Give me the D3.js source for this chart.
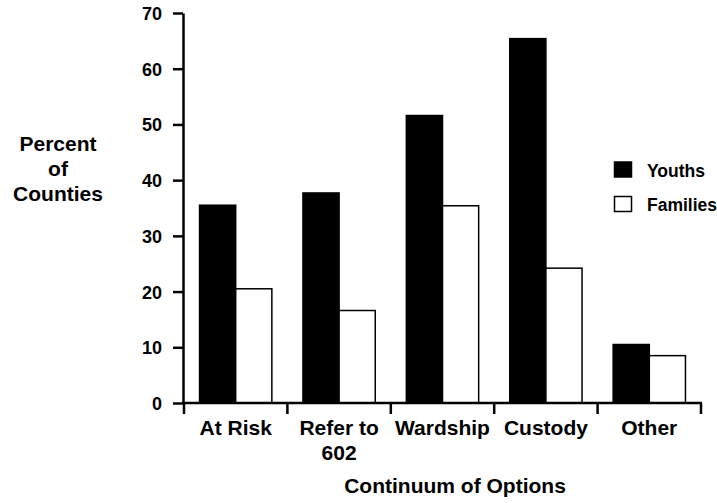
<!DOCTYPE html>
<html>
<head>
<meta charset="utf-8">
<script src="https://cdn.jsdelivr.net/npm/d3@7"></script>
<style>
  body { margin: 0; background: #fff; }
  text { font-family: "Liberation Sans", Arial, sans-serif; font-weight: bold; fill: #000; }
</style>
</head>
<body>
<div id="chart"></div>
<script>
const categories = [['At Risk'], ['Refer to', '602'], ['Wardship'], ['Custody'], ['Other']];
const youths = [35.5, 37.7, 51.6, 65.4, 10.5];
const families = [20.5, 16.6, 35.4, 24.2, 8.5];
const yTicks = [0, 10, 20, 30, 40, 50, 60, 70];
const seriesNames = ['Youths', 'Families'];
const seriesFill = ['#000', '#fff'];

const width = 717, height = 503;
const svg = d3.select('#chart').append('svg')
    .attr('width', width)
    .attr('height', height);

const x = d3.scaleBand()
    .domain(d3.range(categories.length))
    .range([184, 701])
    .paddingInner(0)
    .paddingOuter(0);

const y = d3.scaleLinear().domain([0, 70]).range([403, 13]);

const inner = d3.scaleBand().domain([0, 1]).range([0, x.bandwidth()]).paddingInner(0).paddingOuter(0.43);

// bars
const groups = svg.append('g').selectAll('g')
    .data(categories.map((c, i) => [youths[i], families[i]]))
    .join('g')
    .attr('transform', (d, i) => `translate(${x(i)},0)`);

groups.selectAll('rect')
    .data(d => d)
    .join('rect')
    .attr('x', (d, j) => inner(j))
    .attr('width', inner.bandwidth())
    .attr('y', d => y(d))
    .attr('height', d => y(0) - y(d))
    .attr('fill', (d, j) => seriesFill[j])
    .attr('stroke', '#000')
    .attr('stroke-width', 1.5);

// y axis
const yAxis = svg.append('g')
    .attr('transform', 'translate(183,0)')
    .call(d3.axisLeft(y).tickValues(yTicks).tickSize(10).tickSizeOuter(0).tickPadding(11));
yAxis.select('.domain').attr('stroke-width', 2.5);
yAxis.selectAll('.tick line').attr('stroke-width', 2.5);
yAxis.selectAll('text')
    .attr('dy', '0.36em')
    .style('font-size', '18px')
    .style('font-family', '"Liberation Sans", Arial, sans-serif')
    .style('font-weight', 'bold');

// x axis with ticks on band boundaries
const bounds = d3.range(categories.length + 1).map(i => i < categories.length ? x(i) : x.range()[1]);
const xg = svg.append('g');
xg.append('line')
    .attr('x1', 183).attr('x2', x.range()[1] + 1)
    .attr('y1', y(0)).attr('y2', y(0))
    .attr('stroke', '#000').attr('stroke-width', 2.5);
xg.selectAll('line.tk').data(bounds).join('line')
    .attr('class', 'tk')
    .attr('x1', d => d).attr('x2', d => d)
    .attr('y1', y(0)).attr('y2', y(0) + 11)
    .attr('stroke', '#000').attr('stroke-width', 2.5);

const labels = xg.selectAll('text.cat').data(categories).join('text')
    .attr('class', 'cat')
    .attr('text-anchor', 'middle')
    .style('font-size', '21px')
    .attr('x', (d, i) => x(i) + x.bandwidth() / 2)
    .attr('y', 435);
labels.selectAll('tspan').data(d => d).join('tspan')
    .attr('x', function () { return this.parentNode.getAttribute('x'); })
    .attr('dy', (d, k) => k === 0 ? 0 : 25)
    .text(d => d);

// axis titles
svg.append('text')
    .attr('x', 455).attr('y', 493)
    .attr('text-anchor', 'middle')
    .style('font-size', '21px')
    .text('Continuum of Options');

const yTitle = svg.append('text')
    .attr('text-anchor', 'middle')
    .style('font-size', '21px');
['Percent', 'of', 'Counties'].forEach((t, k) => {
    yTitle.append('tspan').attr('x', 58).attr('y', 151 + k * 25).text(t);
});

// legend
const legend = svg.append('g').selectAll('g')
    .data(seriesNames)
    .join('g')
    .attr('transform', (d, i) => `translate(614.5,${162 + i * 34.5})`);
legend.append('rect')
    .attr('width', 17).attr('height', 15)
    .attr('fill', (d, i) => seriesFill[i])
    .attr('stroke', '#000').attr('stroke-width', 1.5);
legend.append('text')
    .attr('x', 32.5).attr('y', 14.5)
    .style('font-size', '17.5px')
    .text(d => d);
</script>
</body>
</html>
